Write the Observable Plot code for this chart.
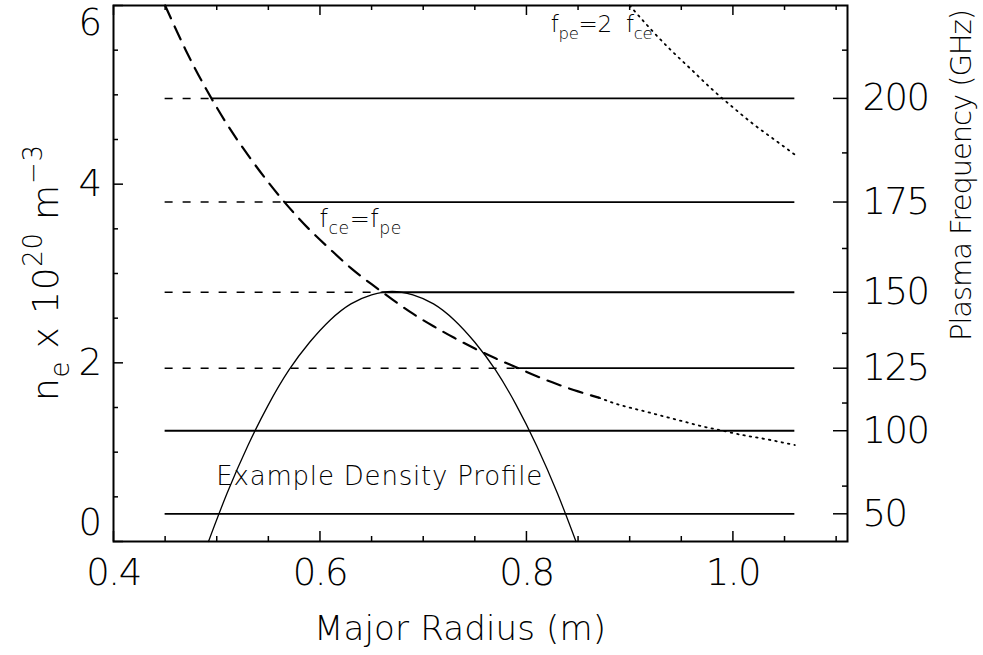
<!DOCTYPE html>
<html><head><meta charset="utf-8">
<script src="https://cdn.jsdelivr.net/npm/d3@7"></script>
<script src="https://cdn.jsdelivr.net/npm/@observablehq/plot@0.6"></script>
<style>body{margin:0;background:#fff} svg{display:block} svg text{font-weight:200}</style>
</head><body><div id="chart"></div>
<script>
// ---- data ----
const xMajor = [0.4, 0.6, 0.8, 1.0];
const xMinor = [0.45, 0.5, 0.55, 0.65, 0.7, 0.75, 0.85, 0.9, 0.95, 1.05, 1.1];
const yMajor = [0, 2, 4, 6];
const yMinor = [0.5, 1, 1.5, 2.5, 3, 3.5, 4.5, 5, 5.5];
const freqLabels = ["50", "100", "125", "150", "175", "200"];
const freqN = [0.31, 1.24, 1.94, 2.79, 3.80, 4.96];
const freqMinorN = [0.62, 1.55, 2.33, 3.28, 4.35, 5.50];

// horizontal frequency lines: density, radius where dashed turns solid
const lineN = [4.96, 3.80, 2.79, 1.94, 1.24, 0.31];
const lineCutR = [0.495, 0.566, 0.66, 0.79, 0.45, 0.45];
const lineStartR = 0.45, lineEndR = 1.06;

// f_ce = f_pe curve (dashed part, then dotted part)
const cceR_dash = [0.45,0.47,0.49,0.51,0.53,0.55,0.57,0.59,0.61,0.63,0.65,0.67,0.69,0.71,0.73,0.75,0.77,0.79,0.81,0.83,0.85,0.87];
const cceN_dash = [6.00,5.50,5.06,4.67,4.33,4.02,3.74,3.49,3.27,3.06,2.88,2.71,2.55,2.41,2.28,2.16,2.05,1.95,1.85,1.76,1.68,1.61];
const cceR_dot = [0.87,0.89,0.91,0.93,0.95,0.97,0.99,1.01,1.03,1.06];
const cceN_dot = [1.61,1.53,1.47,1.41,1.35,1.29,1.24,1.19,1.15,1.08];

// f_pe = 2 f_ce curve (dotted)
const c2R = [0.90,0.92,0.94,0.96,0.98,1.00,1.02,1.04,1.06];
const c2N = [6.00,5.74,5.50,5.28,5.06,4.86,4.67,4.50,4.33];

// example density profile
const profR = [0.492,0.51,0.53,0.55,0.57,0.59,0.61,0.63,0.65,0.67,0.69,0.71,0.73,0.75,0.77,0.79,0.81,0.83,0.848];
const profN = [0,0.54,1.07,1.53,1.92,2.23,2.48,2.66,2.76,2.80,2.76,2.66,2.48,2.23,1.92,1.53,1.07,0.54,0];

// ---- build ----
const W = 983, H = 655, mL = 113, mR = 136, mT = 5, mB = 114;
const pw = W - mL - mR, ph = H - mT - mB;
const FONT = "DejaVu Sans";
const TICKFS = 37;
const pts = (R, N) => R.map((r, i) => ({r, n: N[i]}));
const dashSeg = lineN.map((n, i) => ({n, r1: lineStartR, r2: lineCutR[i]})).filter(d => d.r2 > d.r1);
const solidSeg = lineN.map((n, i) => ({n, r1: lineCutR[i], r2: lineEndR}));
const yLab = (vals, dy) => Plot.text(vals, {y: d => d, frameAnchor: "left", textAnchor: "end", dx: -13, dy, text: d => String(d), fontSize: TICKFS});

const plot = Plot.plot({
  width: W, height: H,
  marginLeft: mL, marginRight: mR, marginTop: mT, marginBottom: mB,
  x: {domain: [0.4, 1.111]},
  y: {domain: [0, 6]},
  style: {fontFamily: FONT, background: "white", color: "black", fontSize: TICKFS + "px"},
  marks: [
    // ticks (inward)
    Plot.ruleX(xMajor, {x: d => d, insetTop: ph - 10, strokeWidth: 1.5}),
    Plot.ruleX(xMinor, {x: d => d, insetTop: ph - 5, strokeWidth: 1.5}),
    Plot.ruleX(xMajor, {x: d => d, insetBottom: ph - 10, strokeWidth: 1.5}),
    Plot.ruleX(xMinor, {x: d => d, insetBottom: ph - 5, strokeWidth: 1.5}),
    Plot.ruleY(yMajor, {y: d => d, insetRight: pw - 10, strokeWidth: 1.5}),
    Plot.ruleY(yMinor, {y: d => d, insetRight: pw - 5, strokeWidth: 1.5}),
    Plot.ruleY(freqN, {y: d => d, insetLeft: pw - 14, strokeWidth: 1.5}),
    Plot.ruleY(freqMinorN, {y: d => d, insetLeft: pw - 5, strokeWidth: 1.5}),
    // axes labels
    Plot.axisX({ticks: xMajor, tickSize: 0, tickPadding: 17, fontSize: TICKFS, label: null, tickFormat: d => d.toFixed(1)}),
    yLab([2, 4], 0), yLab([6], 18), yLab([0], -18),
    Plot.axisY({anchor: "right", ticks: freqN, tickSize: 0, tickPadding: 15, fontSize: TICKFS, label: null,
      tickFormat: d => freqLabels[freqN.indexOf(d)]}),
    // frequency lines
    Plot.ruleY(dashSeg, {y: "n", x1: "r1", x2: "r2", strokeWidth: 1.5, strokeDasharray: "8,10"}),
    Plot.ruleY(solidSeg, {y: "n", x1: "r1", x2: "r2", strokeWidth: 1.8}),
    // curves
    Plot.line(pts(cceR_dash, cceN_dash), {x: "r", y: "n", strokeWidth: 2.2, strokeDasharray: "14,9", curve: "natural"}),
    Plot.line(pts(cceR_dot, cceN_dot), {x: "r", y: "n", strokeWidth: 1.8, strokeDasharray: "1.5,5", curve: "natural"}),
    Plot.line(pts(c2R, c2N), {x: "r", y: "n", strokeWidth: 1.8, strokeDasharray: "1.5,5", curve: "natural"}),
    Plot.line(pts(profR, profN), {x: "r", y: "n", strokeWidth: 1.3, curve: "natural"}),
    Plot.frame({strokeWidth: 2})
  ]
});
document.getElementById("chart").appendChild(plot);

const svg = d3.select(plot);
svg.selectAll('g[aria-label="x-axis tick label"] text, g[aria-label="y-axis tick label"] text, g[aria-label="text"] text')
  .attr("letter-spacing", "-1.5px");

// ---- titles / annotations with sub/superscripts ----
const sx = plot.scale("x"), sy = plot.scale("y");
function rich(x, y, parts, size, opts = {}) {
  const t = svg.append("text").attr("x", x).attr("y", y)
    .attr("font-family", FONT).attr("font-size", size).attr("fill", "black")
    .attr("text-anchor", opts.anchor || "start");
  if (opts.rotate) t.attr("transform", `rotate(${opts.rotate},${x},${y})`);
  if (opts.len) t.attr("textLength", opts.len).attr("lengthAdjust", "spacing");
  for (const p of parts) {
    const s = t.append("tspan").text(p.t);
    if (p.sub) s.attr("font-size", size * 0.72).attr("dy", size * 0.3);
    if (p.sup) s.attr("font-size", size * 0.72).attr("dy", -size * 0.45);
    if (p.back) s.attr("dy", p.back * size);
  }
  return t;
}
// y title
rich(58, mT + ph / 2, [
  {t: "n"}, {t: "e", sub: true}, {t: " x 10", back: -0.3}, {t: "20", sup: true},
  {t: " m", back: 0.45}, {t: "−3", sup: true}
], 36, {anchor: "middle", rotate: -90, len: 256});
// right title
rich(971, 175, [{t: "Plasma Frequency (GHz)"}], 29, {anchor: "middle", rotate: -90, len: 332});
// x title
rich(460, 640, [{t: "Major Radius (m)"}], 34, {anchor: "middle", len: 292});
// annotations
rich(sx.apply(0.60), sy.apply(3.52), [
  {t: "f"}, {t: "ce", sub: true}, {t: "=f", back: -0.3}, {t: "pe", sub: true}
], 24, {len: 82});
rich(sx.apply(0.824), sy.apply(5.70), [
  {t: "f"}, {t: "pe", sub: true}, {t: "=2  f", back: -0.3}, {t: "ce", sub: true}
], 23, {len: 102});
rich(sx.apply(0.50), sy.apply(0.627), [{t: "Example Density Profile"}], 26, {len: 326});
</script>
</body></html>
